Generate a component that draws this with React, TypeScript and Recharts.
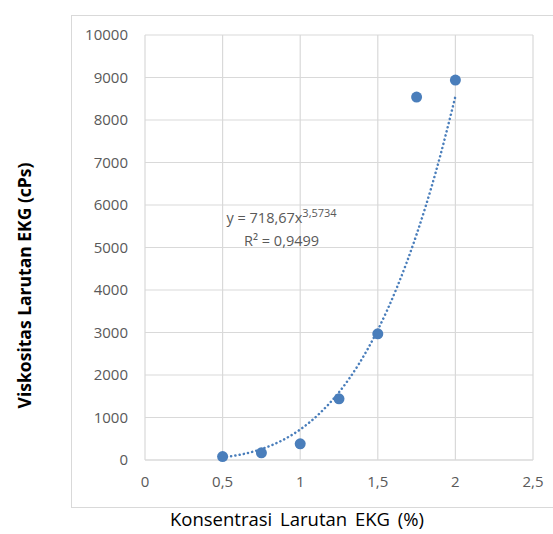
import React from 'react';
import { ComposedChart, Scatter, Line, XAxis, YAxis, CartesianGrid, ReferenceDot } from 'recharts';

// measured points
const konsentrasi = [0.5, 0.75, 1, 1.25, 1.5, 1.75, 2];
const viskositas = [80, 170, 380, 1440, 2970, 8540, 8940];

// power trendline
const trendX = [0.5, 0.625, 0.75, 0.875, 1, 1.125, 1.25, 1.375, 1.5, 1.625, 1.75, 1.875, 2];
const trendY = [60, 134, 257, 446, 719, 1095, 1595, 2242, 3061, 4074, 5309, 6793, 8555];

const xTicks = [0, 0.5, 1, 1.5, 2, 2.5];
const yTicks = [0, 1000, 2000, 3000, 4000, 5000, 6000, 7000, 8000, 9000, 10000];

const points = konsentrasi.map((x, i) => ({ x, y: viskositas[i] }));
const trend = trendX.map((x, i) => ({ x, y: trendY[i] }));

const BLUE = '#4a7ebb';
const GREY = '#595959';
const FONT = '"Open Sans", sans-serif';

const fmt = (v: number) => String(v).replace('.', ',');

export default function App() {
  return (
    <div style={{ position: 'absolute', left: 0, top: 0, width: 553, height: 534 }}>
      <div
        style={{
          position: 'absolute',
          left: 71,
          top: 15,
          width: 520,
          height: 491,
          border: '1px solid #d9d9d9',
        }}
      />
      <ComposedChart
        width={553}
        height={534}
        margin={{ top: 35, right: 20, bottom: 44, left: 0 }}
        style={{ position: 'absolute', left: 0, top: 0, fontFamily: FONT }}
      >
        <CartesianGrid stroke="#d9d9d9" strokeWidth={1.2} />
        <XAxis
          type="number"
          dataKey="x"
          domain={[0, 2.5]}
          ticks={xTicks}
          tickFormatter={fmt}
          axisLine={{ stroke: '#d9d9d9', strokeWidth: 1.2 }}
          tickLine={false}
          tickSize={0}
          tickMargin={16}
          tick={{ fill: GREY, fontSize: 15, fontFamily: FONT }}
          label={{
            content: (p: any) => (
              <text
                x={p.viewBox.x + p.viewBox.width / 2 - 42}
                y={p.viewBox.y + 66}
                textAnchor="middle"
                fill="#000"
                fontSize={18.5}
                fontFamily={FONT}
                wordSpacing={3}
              >
                Konsentrasi Larutan EKG (%)
              </text>
            ),
          }}
        />
        <YAxis
          type="number"
          dataKey="y"
          width={145}
          domain={[0, 10000]}
          ticks={yTicks}
          axisLine={false}
          tickLine={false}
          tickSize={0}
          tickMargin={17}
          tick={{ fill: GREY, fontSize: 15, fontFamily: FONT }}
          label={{
            content: (p: any) => {
              const cy = p.viewBox.y + p.viewBox.height / 2 + 38;
              return (
                <text
                  x={31}
                  y={cy}
                  transform={`rotate(-90, 31, ${cy})`}
                  textAnchor="middle"
                  fill="#000"
                  fontSize={17.5}
                  fontWeight="bold"
                  fontFamily={FONT}
                >
                  Viskositas Larutan EKG (cPs)
                </text>
              );
            },
          }}
        />
        <Line
          data={trend}
          dataKey="y"
          type="monotone"
          stroke={BLUE}
          strokeWidth={2.5}
          strokeDasharray="0.1 4.2"
          strokeLinecap="round"
          dot={false}
          activeDot={false}
          isAnimationActive={false}
        />
        <Scatter data={points} fill={BLUE} isAnimationActive={false} shape={(p: any) => <circle cx={p.cx} cy={p.cy} r={5.5} fill={BLUE} />} />
        <ReferenceDot
          x={0.88}
          y={5450}
          r={0}
          label={{
            content: (p: any) => {
              const cx = p.viewBox.x + (p.viewBox.width || 0) / 2;
              const cy = p.viewBox.y + (p.viewBox.height || 0) / 2;
              return (
                <g fill={GREY} fontSize={14.5} fontFamily={FONT}>
                  <text x={cx} y={cy - 5} textAnchor="middle">
                    y = 718,67x
                    <tspan fontSize={11} dy={-6}>3,5734</tspan>
                  </text>
                  <text x={cx} y={cy + 18} textAnchor="middle">
                    R² = 0,9499
                  </text>
                </g>
              );
            },
          }}
        />
      </ComposedChart>
    </div>
  );
}
